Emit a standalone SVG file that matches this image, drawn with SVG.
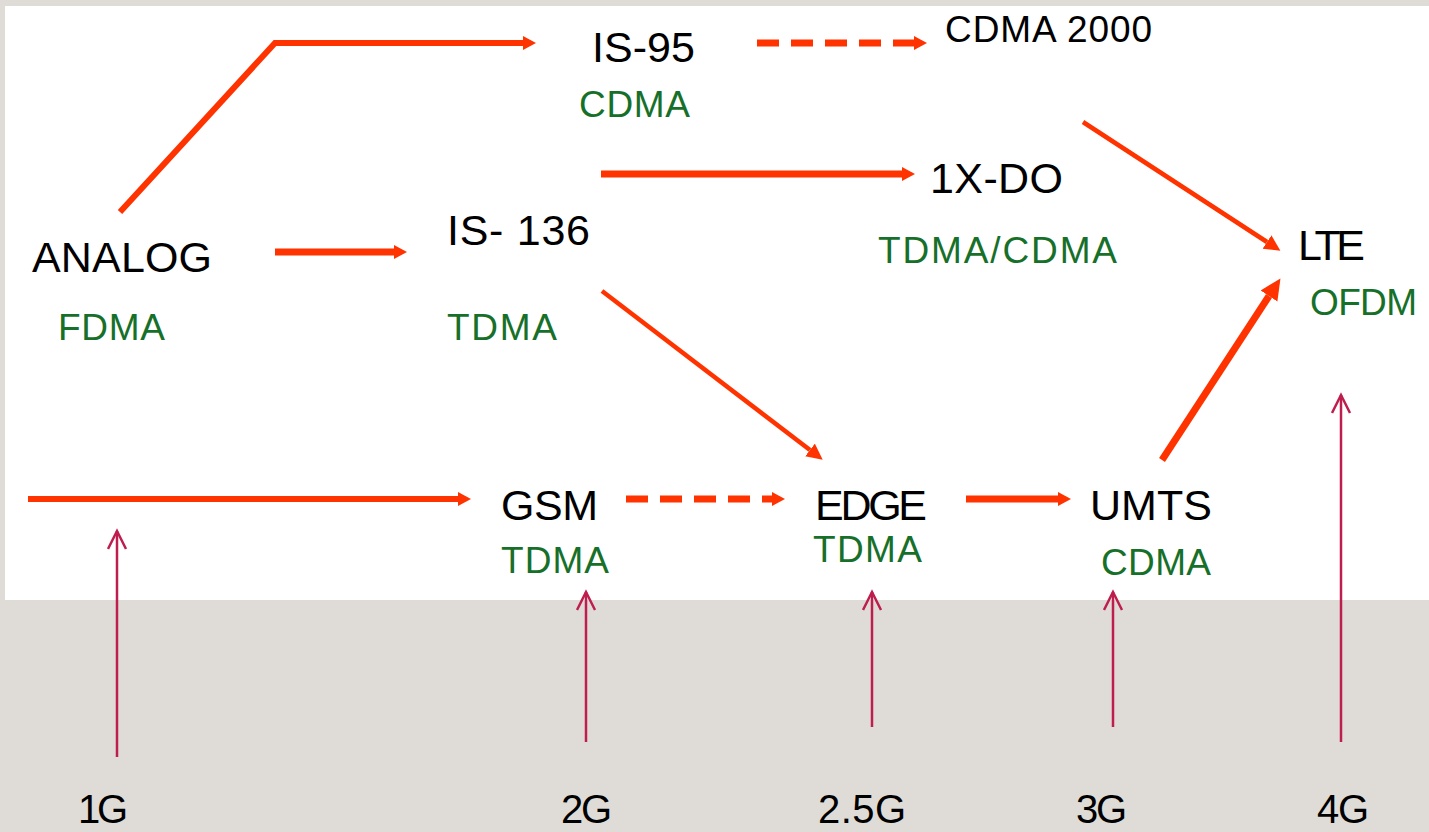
<svg xmlns="http://www.w3.org/2000/svg" width="1429" height="832" viewBox="0 0 1429 832">
<style>
.k{font-family:"Liberation Sans",Arial,sans-serif;font-size:43px;fill:#000}
.g{font-family:"Liberation Sans",Arial,sans-serif;font-size:37px;fill:#17702A}
.b{font-family:"Liberation Sans",Arial,sans-serif;font-size:40px;fill:#000}
.o{fill:none;stroke:#FF3300;stroke-linecap:butt;stroke-linejoin:miter}
.d{stroke-dasharray:22 12}
.c{fill:none;stroke:#BE1E4D;stroke-width:2.5}
</style>
<defs>
<marker id="ah" markerUnits="userSpaceOnUse" markerWidth="16" markerHeight="16" refX="0" refY="7" orient="auto"><path d="M0,0L13,7L0,14z" fill="#FF3300"/></marker>
<marker id="ad" markerUnits="userSpaceOnUse" markerWidth="18" markerHeight="18" refX="0" refY="8" orient="auto"><path d="M0,0L16,8L0,16z" fill="#FF3300"/></marker>
<marker id="ab" markerUnits="userSpaceOnUse" markerWidth="24" markerHeight="24" refX="0" refY="10" orient="auto"><path d="M0,0L21,10L0,20z" fill="#FF3300"/></marker>
<marker id="ac" markerUnits="userSpaceOnUse" markerWidth="24" markerHeight="24" refX="20" refY="10" orient="auto"><path d="M2,1L20,10L2,19" fill="none" stroke="#BE1E4D" stroke-width="2.5"/></marker>
</defs>
<rect x="0" y="0" width="1429" height="832" fill="#DFDCD7"/>
<rect x="5" y="6" width="1424" height="594" fill="#FFFFFF"/>

<g id="connectors">
<polyline class="o" stroke-width="6" points="120,212 275,43 523,43" marker-end="url(#ah)"/>
<line class="o d" stroke-width="7" x1="757" y1="43" x2="914" y2="43" marker-end="url(#ah)"/>
<line class="o" stroke-width="7" x1="601" y1="174" x2="902" y2="174" marker-end="url(#ah)"/>
<line class="o" stroke-width="7" x1="275" y1="252" x2="394" y2="252" marker-end="url(#ah)"/>
<line class="o" stroke-width="4.5" x1="602" y1="291" x2="810" y2="450" marker-end="url(#ad)"/>
<line class="o" stroke-width="4.5" x1="1083" y1="122" x2="1267" y2="242" marker-end="url(#ad)"/>
<line class="o" stroke-width="7" x1="1162" y1="460" x2="1269" y2="296" marker-end="url(#ab)"/>
<line class="o" stroke-width="6" x1="28" y1="499" x2="458" y2="499" marker-end="url(#ah)"/>
<line class="o d" stroke-width="7" x1="626" y1="499" x2="772" y2="499" marker-end="url(#ah)"/>
<line class="o" stroke-width="7" x1="966" y1="499" x2="1058" y2="499" marker-end="url(#ah)"/>
<line class="c" x1="117" y1="757" x2="117" y2="531" marker-end="url(#ac)"/>
<line class="c" x1="586" y1="742" x2="586" y2="592" marker-end="url(#ac)"/>
<line class="c" x1="872" y1="727" x2="872" y2="592" marker-end="url(#ac)"/>
<line class="c" x1="1113" y1="727" x2="1113" y2="592" marker-end="url(#ac)"/>
<line class="c" x1="1341" y1="742" x2="1341" y2="395" marker-end="url(#ac)"/>
</g>

<g id="analog"><text class="k" x="32" y="272" textLength="180">ANALOG</text><text class="g" x="58" y="340" textLength="107">FDMA</text></g>
<g id="is95"><text class="k" x="592" y="62" textLength="103">IS-95</text><text class="g" x="579" y="117" textLength="111">CDMA</text></g>
<g id="cdma2000"><text class="k" x="945" y="42" style="font-size:37px" textLength="207">CDMA 2000</text></g>
<g id="is136"><text class="k" x="447" y="245" textLength="143">IS- 136</text><text class="g" x="447" y="340" textLength="110">TDMA</text></g>
<g id="onexdo"><text class="k" x="930" y="193" textLength="133">1X-DO</text><text class="g" x="878" y="263" textLength="239">TDMA/CDMA</text></g>
<g id="lte"><text class="k" x="1298" y="260" textLength="67">LTE</text><text class="g" x="1310" y="315" textLength="107">OFDM</text></g>
<g id="gsm"><text class="k" x="501" y="520" textLength="97">GSM</text><text class="g" x="501" y="573" textLength="108">TDMA</text></g>
<g id="edge"><text class="k" x="815" y="520" textLength="112">EDGE</text><text class="g" x="813" y="562" textLength="109">TDMA</text></g>
<g id="umts"><text class="k" x="1090" y="520" textLength="122">UMTS</text><text class="g" x="1101" y="575" textLength="110">CDMA</text></g>

<g id="gen1g"><text class="b" x="78" y="823" textLength="50">1G</text></g>
<g id="gen2g"><text class="b" x="561" y="823" textLength="51">2G</text></g>
<g id="gen25g"><text class="b" x="818" y="823" textLength="88">2.5G</text></g>
<g id="gen3g"><text class="b" x="1076" y="823" textLength="51">3G</text></g>
<g id="gen4g"><text class="b" x="1317" y="823" textLength="52">4G</text></g>
</svg>
